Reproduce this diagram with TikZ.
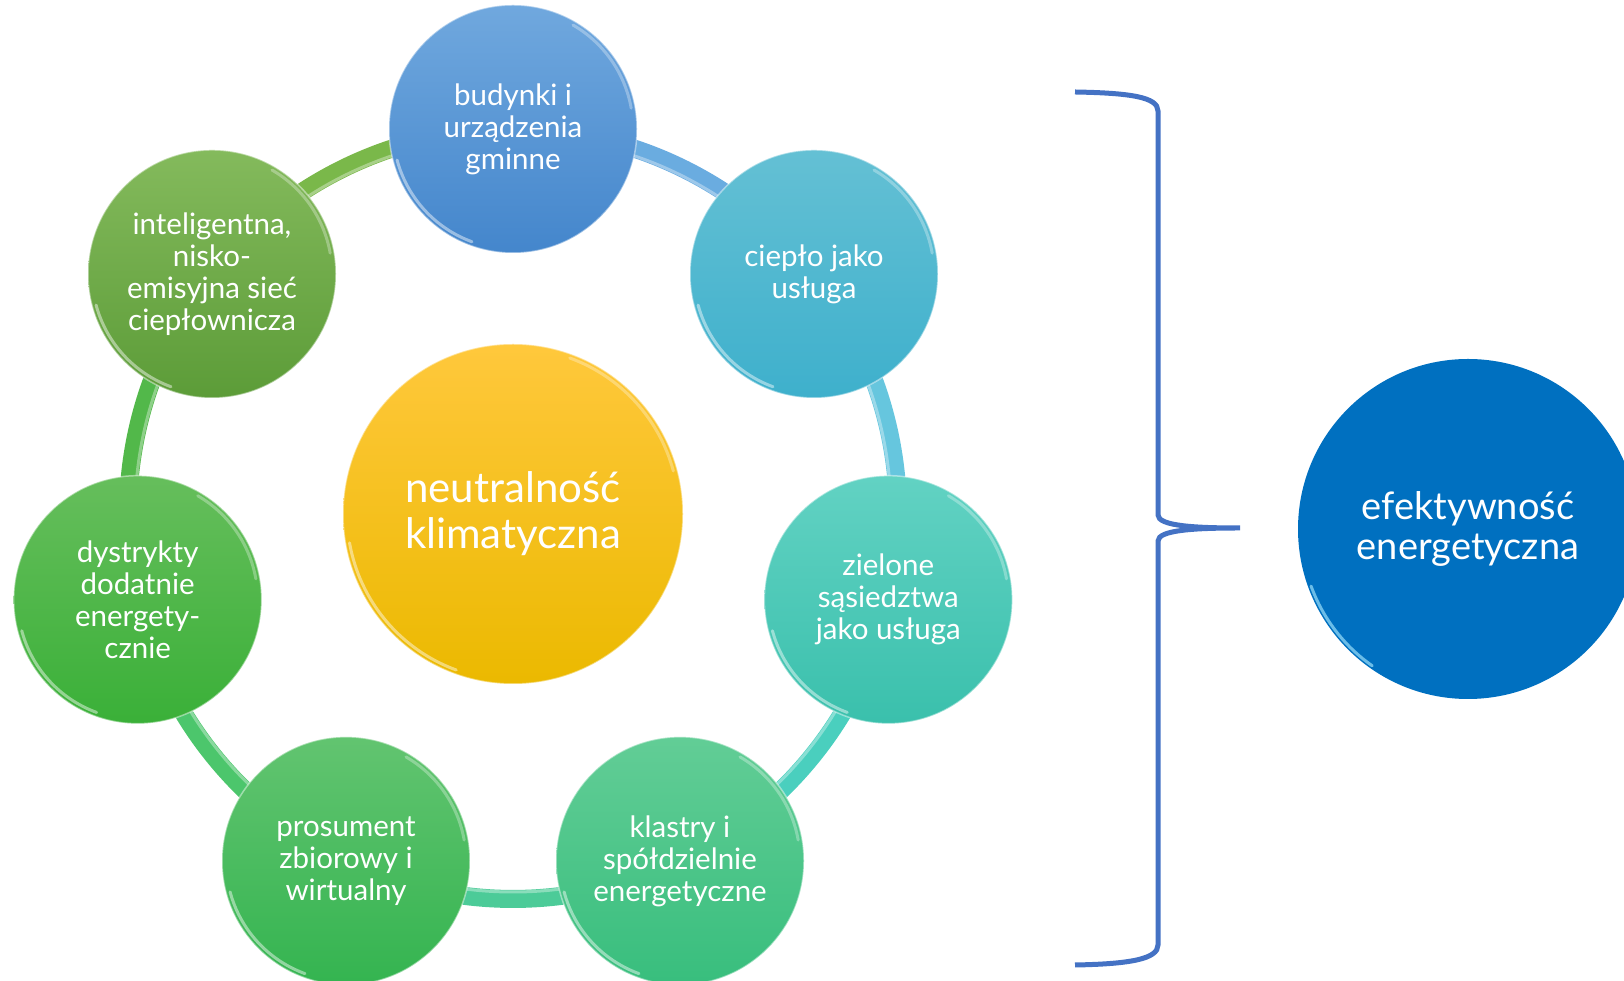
\documentclass[tikz,border=0pt]{standalone}
\usepackage{fontspec}
\setmainfont{Lato}
\usetikzlibrary{calc}
\definecolor{bracecol}{HTML}{4472C4}
\definecolor{effcol}{HTML}{0070C0}
\definecolor{ringA}{HTML}{6AACE0}
\definecolor{ringB}{HTML}{66C6DE}
\definecolor{ringC}{HTML}{4ACFBE}
\definecolor{ringD}{HTML}{4CCB98}
\definecolor{ringE}{HTML}{4CC66C}
\definecolor{ringF}{HTML}{52B84A}
\definecolor{ringG}{HTML}{7AB84A}
\definecolor{t1}{HTML}{70A8DE}\definecolor{b1}{HTML}{4486CC}
\definecolor{t2}{HTML}{64C0D4}\definecolor{b2}{HTML}{3EB0CC}
\definecolor{t3}{HTML}{62D2C3}\definecolor{b3}{HTML}{3AC0AC}
\definecolor{t4}{HTML}{62CD96}\definecolor{b4}{HTML}{38BE7D}
\definecolor{t5}{HTML}{62C470}\definecolor{b5}{HTML}{34B450}
\definecolor{t6}{HTML}{66BE5C}\definecolor{b6}{HTML}{3AB038}
\definecolor{t7}{HTML}{84BA5C}\definecolor{b7}{HTML}{5C9C38}
\definecolor{tc}{HTML}{FFC83C}\definecolor{bc}{HTML}{EBB900}
\tikzset{
  bub/.style={circle, minimum size=248pt, inner sep=0pt, align=center,
    text=white, font=\fontsize{29.5}{32}\selectfont, draw=white, draw opacity=0.45, line width=1.5pt},
  ringseg/.style={line width=18pt},
  rim/.style={white, opacity=0.45, line width=3pt, line cap=round},
  bracestyle/.style={bracecol, line width=5pt}
}
\begin{document}
\begin{tikzpicture}[x=1pt,y=1pt]
\useasboundingbox (0,0) rectangle (1624,981);
\clip (0,0) rectangle (1624,981);
\coordinate (C) at (513,467);
\coordinate (p1) at ($(C)+(90:385)$);
\coordinate (p2) at ($(C)+(38.57:385)$);
\coordinate (p3) at ($(C)+(-12.86:385)$);
\coordinate (p4) at ($(C)+(-64.29:385)$);
\coordinate (p5) at ($(C)+(-115.71:385)$);
\coordinate (p6) at ($(C)+(-167.14:385)$);
\coordinate (p7) at ($(C)+(141.43:385)$);
% ring
\draw[ringseg, ringA] (p1) arc[start angle=90, end angle=38.57, radius=385];
\draw[ringseg, ringB] (p2) arc[start angle=38.57, end angle=-12.86, radius=385];
\draw[ringseg, ringC] (p3) arc[start angle=-12.86, end angle=-64.29, radius=385];
\draw[ringseg, ringD] (p4) arc[start angle=-64.29, end angle=-115.71, radius=385];
\draw[ringseg, ringE] (p5) arc[start angle=-115.71, end angle=-167.14, radius=385];
\draw[ringseg, ringF] (p6) arc[start angle=-167.14, end angle=-218.57, radius=385];
\draw[ringseg, ringG] (p7) arc[start angle=141.43, end angle=90, radius=385];
% ring highlight
\draw[white, opacity=0.35, line width=3pt] (p1) ++(0,-7) arc[start angle=90, end angle=-270, radius=378];
% nodes
\node[bub, top color=t1, bottom color=b1] (n1) at (p1) {budynki i\\urządzenia\\gminne};
\node[bub, top color=t2, bottom color=b2] (n2) at (p2) {ciepło jako\\usługa};
\node[bub, top color=t3, bottom color=b3] (n3) at (p3) {zielone\\sąsiedztwa\\jako usługa};
\node[bub, top color=t4, bottom color=b4] (n4) at (p4) {klastry i\\spółdzielnie\\energetyczne};
\node[bub, top color=t5, bottom color=b5] (n5) at (p5) {prosument\\zbiorowy i\\wirtualny};
\node[bub, top color=t6, bottom color=b6] (n6) at (p6) {dystrykty\\dodatnie\\energety-\\cznie};
\node[bub, top color=t7, bottom color=b7] (n7) at (p7) {inteligentna,\\nisko-\\emisyjna sieć\\ciepłownicza};
\node[bub, minimum size=340pt, top color=tc, bottom color=bc, font=\fontsize{42}{46}\selectfont] (nc) at (C) {neutralność\\klimatyczna};
% rim highlights
\foreach \n in {n1,n2,n3,n4,n5,n6,n7}{
  \draw[rim] (\n.center) ++(195:120) arc[start angle=195, end angle=250, radius=120];
  \draw[rim, opacity=0.3] (\n.center) ++(10:120) arc[start angle=10, end angle=60, radius=120];
}
\draw[rim] (nc.center) ++(190:166) arc[start angle=190, end angle=250, radius=166];
\draw[rim, opacity=0.3] (nc.center) ++(15:166) arc[start angle=15, end angle=70, radius=166];
% effectiveness circle
\node[circle, minimum size=340pt, inner sep=0pt, fill=effcol, align=center, text=white,
  font=\fontsize{38}{40}\selectfont] (ne) at (1468,452) {efektywność\\energetyczna};
\draw[white!60!cyan, opacity=0.7, line width=3pt, line cap=round] (ne.center) ++(200:167) arc[start angle=200, end angle=235, radius=167];
% brace
\coordinate (bt) at (1075,889);
\coordinate (bb) at (1075,16);
\coordinate (tip) at (1240,453);
\draw[bracestyle] (bt) .. controls (1130,888) and (1158,884) .. (1158,870)
  -- (1158,466) .. controls (1158,455) and (1195,453) .. (tip)
  .. controls (1195,453) and (1158,451) .. (1158,440)
  -- (1158,36) .. controls (1158,22) and (1130,17) .. (bb);
\end{tikzpicture}
\end{document}
